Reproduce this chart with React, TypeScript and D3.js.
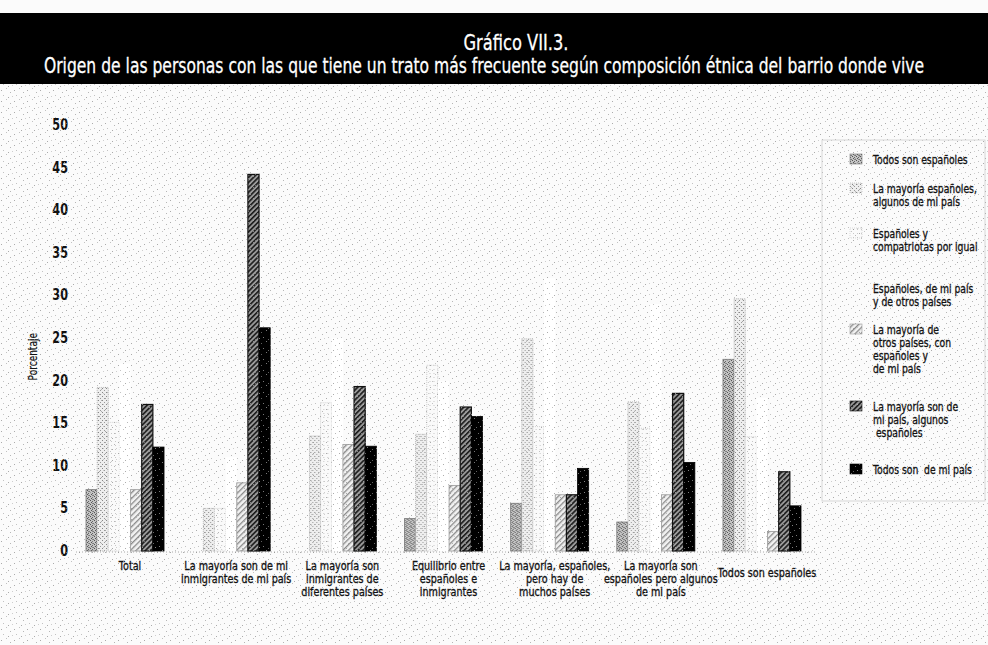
import React, { useLayoutEffect, useRef, useState } from "react";
import * as d3 from "d3";

// ---------- data ----------
const groupLabels: string[][] = [
  ["Total"],
  ["La mayoría son de mi", "inmigrantes de mi país"],
  ["La mayoría son", "inmigrantes de", "diferentes países"],
  ["Equilibrio entre", "españoles e", "inmigrantes"],
  ["La mayoría, españoles,", "pero hay de", "muchos países"],
  ["La mayoría son", "españoles pero algunos", "de mi país"],
  ["Todos son españoles"],
];

const seriesLabels: string[][] = [
  ["Todos son españoles"],
  ["La mayoría españoles,", "algunos de mi país"],
  ["Españoles y", "compatriotas por igual"],
  ["Españoles, de mi país", "y de otros países"],
  ["La mayoría de", "otros países, con", "españoles y", "de mi país"],
  ["La mayoría son de", "mi país, algunos", " españoles"],
  ["Todos son  de mi país"],
];

const todosEspanoles = [7.2, 0, 0, 3.8, 5.6, 3.4, 22.5];
const mayoriaEspanolesAlgunosMiPais = [19.2, 5, 13.5, 13.7, 24.9, 17.5, 29.6];
const espanolesCompatriotas = [15.1, 5, 17.4, 21.8, 14.6, 14.4, 13.4];
const espanolesMiPaisOtros = [22, 11, 25, 20, 32, 29, 18];
const mayoriaOtrosPaises = [7.2, 8, 12.5, 7.7, 6.6, 6.6, 2.3];
const mayoriaMiPaisAlgunosEspanoles = [17.2, 44.2, 19.3, 16.9, 6.6, 18.5, 9.3];
const todosMiPais = [12.2, 26.2, 12.3, 15.8, 9.7, 10.4, 5.3];

const seriesValues = [
  todosEspanoles,
  mayoriaEspanolesAlgunosMiPais,
  espanolesCompatriotas,
  espanolesMiPaisOtros,
  mayoriaOtrosPaises,
  mayoriaMiPaisAlgunosEspanoles,
  todosMiPais,
];

const yTicks = [0, 5, 10, 15, 20, 25, 30, 35, 40, 45, 50];

const titleLine1 = "Gráfico VII.3.";
const titleLine2 =
  "Origen de las personas con las que tiene un trato más frecuente según composición étnica del barrio donde vive";
const yAxisTitle = "Porcentaje";

// ---------- layout / style ----------
const W = 988;
const H = 645;
const FONT = "'DejaVu Sans', 'Open Sans', sans-serif";
const fills = ["url(#p1)", "url(#p2)", "url(#p3)", "#ffffff", "url(#p5)", "url(#p6)", "#000000"];
const strokes = ["#777", "#aaa", "#c4c4c4", "none", "#999", "#111", "#000"];
const dashes = [undefined, "1,1", "1,1", undefined, undefined, undefined, undefined];
const legendFirstBaseline = [164, 193, 238, 293, 334, 411, 474];
const legendLineH = 13;

type NT = {
  x: number;
  y: number;
  lines: string[];
  size: number;
  sx: number;
  lh?: number;
  anchor?: "start" | "middle" | "end";
  weight?: number;
  fill?: string;
  bold?: number;
};

function NarrowText({ x, y, lines, size, sx, lh = 12.5, anchor = "start", weight = 400, fill = "#111", bold = 0 }: NT) {
  return (
    <text
      transform={`translate(${x},${y}) scale(${sx},1)`}
      textAnchor={anchor}
      fontFamily={FONT}
      fontSize={size}
      fontWeight={weight}
      fill={fill}
      stroke={bold ? fill : undefined}
      strokeWidth={bold || undefined}
      style={{ whiteSpace: "pre" }}
    >
      {lines.map((l, i) => (
        <tspan key={i} x={0} y={i * lh}>
          {l}
        </tspan>
      ))}
    </text>
  );
}

function FitTitle({ cx, y, text, size, width }: { cx: number; y: number; text: string; size: number; width: number }) {
  const ref = useRef<SVGTextElement>(null);
  const [sx, setSx] = useState(0.85);
  useLayoutEffect(() => {
    if (ref.current) {
      const w = ref.current.getComputedTextLength();
      if (w > 0) setSx(width / w);
    }
  }, [text, size, width]);
  return (
    <text
      ref={ref}
      transform={`translate(${cx},${y}) scale(${sx},1)`}
      textAnchor="middle"
      fontFamily={FONT}
      fontSize={size}
      fill="#fff"
      stroke="#fff"
      strokeWidth={0.3}
    >
      {text}
    </text>
  );
}

export default function App() {
  const groups = groupLabels.map((_, i) => String(i));
  const x0 = d3
    .scaleBand<string>()
    .domain(groups)
    .range([86, 801])
    .paddingInner(0.265)
    .paddingOuter(0);
  const x1 = d3
    .scaleBand<string>()
    .domain(seriesValues.map((_, i) => String(i)))
    .range([0, x0.bandwidth()])
    .padding(0);
  const y = d3.scaleLinear().domain([0, 50]).range([551, 125]);

  return (
    <svg
      width={W}
      height={H}
      viewBox={`0 0 ${W} ${H}`}
      style={{ position: "absolute", left: 0, top: 0, background: "#fbfbfb" }}
    >
      <defs>
        <pattern id="p1" width="4" height="4" patternUnits="userSpaceOnUse">
          <rect width="4" height="4" fill="#c4c4c4" />
          <rect x="0" y="0" width="1" height="1" fill="#555" />
          <rect x="2" y="1" width="1" height="1" fill="#666" />
          <rect x="3" y="3" width="1" height="1" fill="#777" />
          <rect x="1" y="2" width="1" height="1" fill="#555" />
          <rect x="2" y="3" width="1" height="1" fill="#888" />
        </pattern>
        <pattern id="p2" width="4" height="4" patternUnits="userSpaceOnUse">
          <rect width="4" height="4" fill="#eeeeee" />
          <rect x="0" y="0" width="1" height="1" fill="#888" />
          <rect x="2" y="2" width="1" height="1" fill="#999" />
        </pattern>
        <pattern id="p3" width="4" height="4" patternUnits="userSpaceOnUse">
          <rect width="4" height="4" fill="#fafafa" />
          <rect x="1" y="1" width="1" height="1" fill="#c8c8c8" />
        </pattern>
        <pattern id="p5" width="4" height="4" patternUnits="userSpaceOnUse" patternTransform="rotate(45)">
          <rect width="4" height="4" fill="#f2f2f2" />
          <rect x="0" y="0" width="1.3" height="4" fill="#8a8a8a" />
        </pattern>
        <pattern id="p6" width="3.5" height="3.5" patternUnits="userSpaceOnUse" patternTransform="rotate(45)">
          <rect width="3.5" height="3.5" fill="#9a9a9a" />
          <rect x="0" y="0" width="1.6" height="3.5" fill="#1a1a1a" />
        </pattern>
        <pattern id="noise" width="13" height="11" patternUnits="userSpaceOnUse">
          <rect x="1" y="2" width="1" height="1" fill="#888" />
          <rect x="6" y="0" width="1" height="1" fill="#aaa" />
          <rect x="10" y="4" width="1" height="1" fill="#999" />
          <rect x="3" y="7" width="1" height="1" fill="#aaa" />
          <rect x="8" y="9" width="1" height="1" fill="#888" />
          <rect x="12" y="8" width="1" height="1" fill="#bbb" />
        </pattern>
      </defs>

      {/* title bar */}
      <rect x={0} y={13} width={W} height={71} fill="#000" />
      <NarrowText x={516} y={50} lines={[titleLine1]} size={22} sx={0.74} anchor="middle" fill="#fff" bold={0.3} />
      <FitTitle cx={484} y={73} text={titleLine2} size={21} width={880} />

      {/* y tick labels */}
      {yTicks.map((t) => (
        <NarrowText
          key={t}
          x={68}
          y={y(t) + 5}
          lines={[String(t)]}
          size={15}
          sx={0.75}
          anchor="end"
          weight={700}
        />
      ))}
      <g transform={`translate(37,${y(22.8)}) rotate(-90)`}>
        <NarrowText x={0} y={0} lines={[yAxisTitle]} size={12} sx={0.75} anchor="middle" bold={0.2} />
      </g>

      {/* baseline */}
      <line x1={76} x2={815} y1={y(0) + 1} y2={y(0) + 1} stroke="#aaa" strokeDasharray="1,2" />

      {/* bars */}
      {groups.map((g, gi) => (
        <g key={g} transform={`translate(${x0(g)},0)`}>
          {seriesValues.map((vals, si) => {
            const v = vals[gi];
            if (v <= 0) return null;
            return (
              <rect
                key={si}
                x={x1(String(si))!}
                y={y(v)}
                width={x1.bandwidth()}
                height={y(0) - y(v)}
                fill={fills[si]}
                stroke={strokes[si]}
                strokeWidth={si === 5 ? 1.2 : 0.8}
                strokeDasharray={dashes[si]}
              />
            );
          })}
        </g>
      ))}

      {/* category labels */}
      {groups.map((g, gi) => {
        const cx = x0(g)! + x0.bandwidth() / 2 + 5;
        const startY = gi === groups.length - 1 ? 577 : 570;
        return (
          <NarrowText
            key={g}
            x={cx}
            y={startY}
            lines={groupLabels[gi]}
            size={12}
            sx={0.8}
            lh={13}
            anchor="middle"
            bold={0.35}
          />
        );
      })}

      {/* legend */}
      <rect x={822} y={140} width={163} height={361} fill="none" stroke="#d0d0d0" strokeWidth={0.8} />
      {seriesLabels.map((lines, si) => {
        const by = legendFirstBaseline[si];
        return (
          <g key={si}>
            {si !== 3 && (
              <rect
                x={850}
                y={by - 10}
                width={12}
                height={10}
                fill={fills[si]}
                stroke={si === 6 ? "#000" : strokes[si]}
                strokeWidth={0.6}
                strokeDasharray={dashes[si]}
              />
            )}
            <NarrowText x={873} y={by} lines={lines} size={12} sx={0.77} lh={legendLineH} bold={0.35} />
          </g>
        );
      })}

      {/* scan speckle overlay */}
      <rect x={0} y={84} width={W} height={H - 84} fill="url(#noise)" opacity={0.7} pointerEvents="none" />
    </svg>
  );
}
